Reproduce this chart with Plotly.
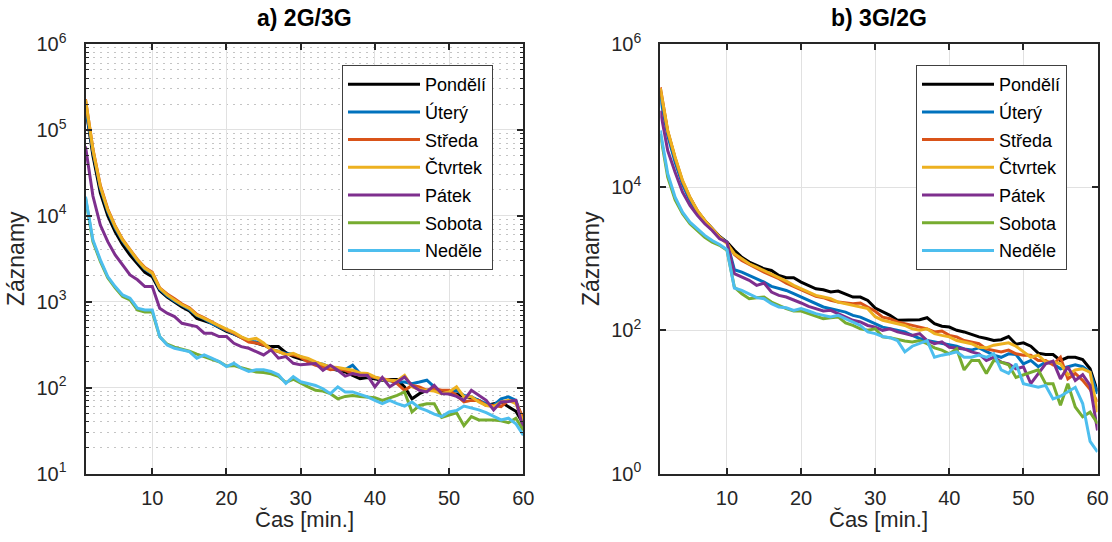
import plotly.graph_objects as go

minutes = list(range(1, 61))
days = ["Pondělí", "Úterý", "Středa", "Čtvrtek", "Pátek", "Sobota", "Neděle"]
colors = ["#000000", "#0072BD", "#D95319", "#EDB120", "#7E2F8E", "#77AC30", "#4DBEEE"]

# ---- a) 2G/3G ----
pondeli_a = [190000, 50000, 18500, 10000, 6500, 4600, 3500, 2800, 2200, 1950, 1350, 1130, 990, 870, 780, 640, 600, 560, 500, 450,
             420, 380, 350, 330, 310, 300, 300, 255, 230, 215,
             208, 191, 182, 166, 159, 152, 139, 127, 131, 127, 122, 124, 124, 102, 74, 85, 93, 93, 89, 85,
             84, 79, 76, 71, 62, 65, 68, 60, 53, 38]
utery_a = [185000, 56000, 21000, 11200, 7200, 5100, 3900, 3000, 2400, 2100, 1400, 1170, 1020, 900, 810, 690, 630, 560, 510, 470,
           430, 385, 350, 340, 320, 280, 265, 250, 245, 230,
           208, 194, 187, 174, 159, 162, 182, 146, 136, 131, 124, 120, 116, 116, 111, 116, 122, 102, 85, 89,
           93, 81, 78, 71, 65, 62, 74, 78, 71, 40]
streda_a = [228000, 60000, 22500, 12000, 7600, 5300, 4050, 3100, 2500, 2200, 1450, 1230, 1080, 940, 850, 710, 650, 580, 520, 470,
            430, 380, 340, 330, 315, 280, 260, 245, 240, 225,
            199, 182, 174, 162, 166, 159, 146, 139, 139, 131, 127, 122, 111, 93, 106, 102, 93, 97, 93, 93,
            81, 68, 71, 71, 62, 62, 60, 71, 68, 44]
ctvrtek_a = [224000, 59000, 22000, 11700, 7500, 5250, 4000, 3060, 2450, 2150, 1440, 1200, 1050, 920, 835, 700, 640, 575, 525, 480,
             440, 390, 360, 375, 330, 275, 265, 240, 250, 230,
             218, 199, 187, 174, 171, 166, 159, 148, 146, 133, 124, 122, 120, 139, 102, 95, 93, 91, 85, 89,
             102, 78, 78, 68, 62, 60, 68, 71, 65, 40]
patek_a = [64000, 17000, 7800, 5000, 3500, 2700, 2050, 1800, 1500, 1500, 840, 735, 670, 560, 537, 513, 430, 430, 393, 393,
           328, 300, 287, 263, 240, 275, 220, 230, 192, 184,
           187, 191, 159, 182, 159, 136, 146, 139, 139, 102, 131, 102, 116, 133, 106, 93, 89, 106, 85, 84,
           79, 71, 93, 81, 71, 55, 68, 69, 71, 33]
sobota_a = [16000, 5000, 2950, 1900, 1450, 1150, 1050, 800, 760, 760, 390, 320, 295, 280, 265, 245, 230, 215, 200, 178,
            180, 170, 160, 152, 150, 145, 135, 115, 125, 112,
            102, 93, 91, 85, 74, 79, 81, 79, 78, 76, 71, 76, 81, 89, 52, 62, 65, 65, 45, 48,
            51, 36, 46, 42, 42, 42, 41, 39, 44, 32]
nedele_a = [16700, 5240, 3070, 1960, 1500, 1200, 1100, 840, 800, 800, 393, 314, 287, 275, 263, 220, 240, 220, 201, 176,
            192, 168, 154, 161, 161, 154, 141, 112, 134, 117,
            111, 106, 97, 85, 102, 89, 89, 84, 78, 71, 65, 71, 65, 61, 68, 58, 54, 49, 46, 52,
            54, 61, 58, 55, 51, 46, 42, 44, 38, 28]

# ---- b) 3G/2G ----
pondeli_b = [223000, 58500, 24800, 11700, 7100, 4630, 3430, 2620, 2050, 1710, 1310, 1050, 898, 807, 725, 687, 585, 543, 543, 472,
             425, 381, 369, 343, 354, 318, 292, 292, 262, 205,
             180, 162, 138, 138, 141, 141, 150, 124, 114, 111, 100, 95, 88, 81, 77, 72, 74, 82, 64, 67,
             60, 48, 46, 46, 38, 42, 42, 39, 29, 14]
utery_b = [180000, 52600, 22300, 10900, 6520, 4340, 3250, 2540, 2000, 1710, 703, 652, 585, 526, 472, 411, 381, 361, 325, 292,
           262, 236, 212, 201, 190, 180, 162, 153, 138, 124,
           111, 105, 100, 95, 85, 77, 72, 69, 65, 62, 60, 55, 53, 57, 50, 45, 42, 47, 46, 34,
           38, 31, 36, 34, 29, 31, 33, 31, 26, 13]
streda_b = [248000, 60400, 25600, 12100, 7170, 4670, 3390, 2590, 2000, 1660, 1150, 948, 834, 725, 652, 585, 526, 457, 411, 369,
            325, 298, 286, 262, 248, 241, 236, 241, 212, 185,
            153, 145, 131, 124, 117, 111, 105, 95, 98, 85, 81, 72, 69, 65, 55, 52, 50, 53, 47, 45,
            45, 38, 38, 33, 42, 21, 25, 20, 15, 10]
ctvrtek_b = [240000, 61800, 26200, 12400, 7240, 4720, 3430, 2620, 2010, 1620, 1175, 1000, 851, 765, 687, 618, 543, 488, 425, 381,
             343, 308, 292, 277, 248, 236, 223, 212, 201, 155,
             138, 131, 124, 117, 105, 100, 105, 90, 85, 81, 72, 69, 65, 58, 57, 62, 65, 67, 60, 50,
             42, 45, 36, 36, 34, 24, 28, 29, 26, 7.2]
patek_b = [117000, 32500, 16200, 8520, 5550, 4030, 3080, 2480, 1900, 1710, 618, 555, 499, 425, 457, 343, 308, 292, 268, 241,
           216, 201, 186, 190, 171, 154, 138, 131, 117, 111,
           100, 105, 95, 90, 85, 90, 72, 65, 69, 58, 57, 55, 50, 47, 38, 42, 36, 34, 29, 31,
           18, 25, 34, 37, 21, 31, 20, 24, 17, 4.0]
sobota_b = [55500, 13800, 6660, 4250, 3080, 2480, 2000, 1710, 1540, 1310, 400, 325, 277, 286, 292, 248, 223, 201, 186, 186,
            171, 157, 145, 150, 154, 127, 117, 105, 100, 105,
            81, 79, 74, 71, 69, 72, 65, 57, 53, 47, 55, 28, 38, 38, 25, 38, 36, 33, 22, 24,
            26, 28, 18, 18, 9, 18, 8.5, 6.2, 7.2, 5.0]
nedele_b = [61800, 15400, 7240, 4480, 3250, 2620, 2120, 1800, 1580, 1340, 390, 361, 318, 286, 277, 236, 212, 207, 190, 201,
            186, 171, 162, 154, 162, 145, 131, 117, 95, 90,
            82, 79, 72, 50, 60, 65, 72, 42, 45, 47, 50, 42, 42, 45, 42, 47, 28, 25, 34, 18,
            17, 16, 17, 11, 12, 14, 16, 9.5, 2.8, 2.0]

series_a = [pondeli_a, utery_a, streda_a, ctvrtek_a, patek_a, sobota_a, nedele_a]
series_b = [pondeli_b, utery_b, streda_b, ctvrtek_b, patek_b, sobota_b, nedele_b]

x_ticks = [10, 20, 30, 40, 50, 60]
y_ticks_a = [10, 100, 1000, 10000, 100000, 1000000]
y_ticktext_a = ["10<sup>1</sup>", "10<sup>2</sup>", "10<sup>3</sup>", "10<sup>4</sup>", "10<sup>5</sup>", "10<sup>6</sup>"]
y_ticks_b = [1, 100, 10000, 1000000]
y_ticktext_b = ["10<sup>0</sup>", "10<sup>2</sup>", "10<sup>4</sup>", "10<sup>6</sup>"]

FONT = "Liberation Sans, Arial, sans-serif"
AX = "#262626"
GRID = "#e1e1e1"
W, H = 1112, 542

fig = go.Figure()
for name, col, ys in zip(days, colors, series_a):
    fig.add_trace(go.Scatter(x=minutes, y=ys, name=name, mode="lines", legendgroup="a_" + name,
                             line=dict(color=col, width=3), xaxis="x", yaxis="y", legend="legend"))
for name, col, ys in zip(days, colors, series_b):
    fig.add_trace(go.Scatter(x=minutes, y=ys, name=name, mode="lines", legendgroup="b_" + name,
                             line=dict(color=col, width=3), xaxis="x2", yaxis="y2", legend="legend2"))

def xax(domain, anchor):
    return dict(domain=domain, anchor=anchor, range=[1, 60], tickmode="array", tickvals=x_ticks,
                ticks="inside", ticklen=6, tickwidth=1.5, tickcolor=AX, showline=True, mirror="ticks",
                linecolor=AX, linewidth=2, showgrid=True, gridcolor=GRID, gridwidth=1, zeroline=False,
                automargin=False, ticklabelstandoff=5,
                tickfont=dict(size=20, color=AX, family=FONT))

def yax(domain, anchor, rng, tv, tt, minor):
    d = dict(domain=domain, anchor=anchor, type="log", range=rng, tickmode="array", tickvals=tv, ticktext=tt,
             ticks="inside", ticklen=6, tickwidth=1.5, tickcolor=AX, showline=True, mirror="ticks",
             linecolor=AX, linewidth=2, showgrid=True, gridcolor=GRID, gridwidth=1, zeroline=False,
             automargin=False, ticklabelstandoff=13,
             tickfont=dict(size=20, color=AX, family=FONT),
             title=dict(text="Záznamy", font=dict(size=23, color=AX, family=FONT), standoff=5))
    if minor:
        d["minor"] = dict(dtick="D1", ticks="inside", ticklen=3, tickwidth=1, tickcolor=AX,
                          showgrid=True, gridcolor="#c4c4c4", griddash="2px,5px", gridwidth=1)
    return d

ydom = [1 - 473.5 / H, 1 - 44 / H]
xdom_a = [85.5 / W, 523.3 / W]
xdom_b = [660.3 / W, 1097.5 / W]

legend_common = dict(xanchor="left", yanchor="top", bgcolor="white", bordercolor="#404040", borderwidth=1,
                     font=dict(size=18, color="#000000", family=FONT), itemwidth=72,
                     traceorder="grouped", tracegroupgap=1.3)

def centered(dom):
    return (dom[0] + dom[1]) / 2

fig.update_layout(
    width=W, height=H, margin=dict(l=0, r=0, t=0, b=0, autoexpand=False),
    paper_bgcolor="white", plot_bgcolor="white",
    font=dict(family=FONT, color=AX),
    xaxis=xax(xdom_a, "y"),
    yaxis=yax(ydom, "x", [1, 6], y_ticks_a, y_ticktext_a, True),
    xaxis2=xax(xdom_b, "y2"),
    yaxis2=yax(ydom, "x2", [0, 6], y_ticks_b, y_ticktext_b, False),
    legend=dict(x=342 / W, y=1 - 65 / H, **legend_common),
    legend2=dict(x=916 / W, y=1 - 65 / H, **legend_common),
    showlegend=True,
    annotations=[
        dict(text="<b>a) 2G/3G</b>", x=centered(xdom_a), y=1 - 18 / H, xref="paper", yref="paper",
             xanchor="center", yanchor="middle", showarrow=False, font=dict(size=23, color="#000000", family=FONT)),
        dict(text="<b>b) 3G/2G</b>", x=centered(xdom_b), y=1 - 18 / H, xref="paper", yref="paper",
             xanchor="center", yanchor="middle", showarrow=False, font=dict(size=23, color="#000000", family=FONT)),
        dict(text="Čas [min.]", x=centered(xdom_a), y=1 - 519 / H, xref="paper", yref="paper",
             xanchor="center", yanchor="middle", showarrow=False, font=dict(size=22, color=AX, family=FONT)),
        dict(text="Čas [min.]", x=centered(xdom_b), y=1 - 519 / H, xref="paper", yref="paper",
             xanchor="center", yanchor="middle", showarrow=False, font=dict(size=22, color=AX, family=FONT)),
    ],
)

fig.write_html("out.html")
